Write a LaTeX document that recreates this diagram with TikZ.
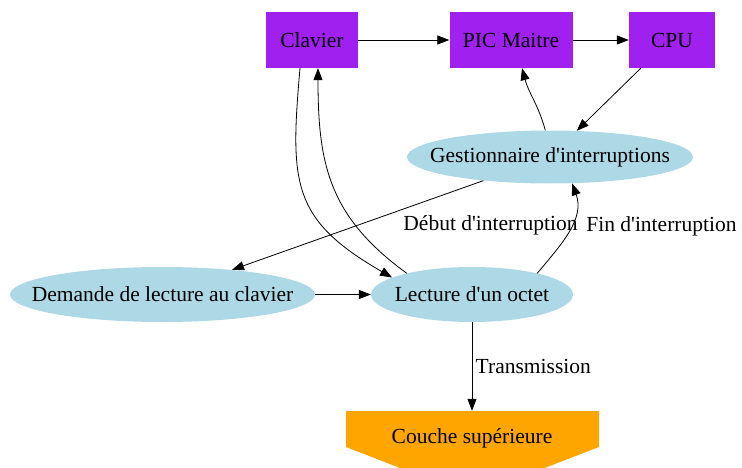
\documentclass[tikz,border=0pt]{standalone}
\usepackage{fontspec}
\setmainfont{Liberation Serif}
\usepackage{tikz}
\usetikzlibrary{arrows.meta,positioning,shapes.geometric}
\definecolor{boxpurple}{HTML}{A020F0}
\definecolor{stepblue}{HTML}{ADD8E6}
\definecolor{layerorange}{HTML}{FFA500}

\begin{document}
\begin{tikzpicture}[x=1pt,y=1pt,
  every node/.style={font=\fontsize{21.5}{26}\selectfont},
  hw/.style={rectangle,fill=boxpurple,inner sep=0pt},
  stepnode/.style={ellipse,fill=stepblue,inner ysep=0pt,inner xsep=-23pt},
  link/.style={-{Triangle[length=12pt,width=9pt]},line width=0.8pt}]
  \useasboundingbox (0,0) rectangle (742,467);
  % hardware row
  \node[hw,minimum width=92pt,minimum height=56pt] (clavier) at (312,427) {Clavier};
  \node[hw,minimum width=123pt,minimum height=56pt] (pic) at (511,427) {PIC Maitre};
  \node[hw,minimum width=86pt,minimum height=56pt] (cpu) at (672,427) {CPU};
  % software steps
  \node[stepnode,minimum width=286pt,minimum height=53pt] (gest) at (550,310) {Gestionnaire d\textquotesingle interruptions};
  \node[stepnode,minimum width=305pt,minimum height=55pt] (demande) at (162.5,172.5) {Demande de lecture au clavier};
  \node[stepnode,minimum width=202pt,minimum height=55pt] (lecture) at (472,172.5) {Lecture d\textquotesingle un octet};
  % upper layer
  \fill[layerorange] (346,56) -- (599,56) -- (599,20) -- (472,-29) -- (346,20) -- cycle;
  \node[minimum width=253pt,minimum height=54pt,inner sep=0pt] (couche) at (472,29) {Couche supérieure};

  \draw[link] (clavier) -- (pic);
  \draw[link] (pic) -- (cpu);
  \draw[link] ([xshift=12pt]cpu.south west) -- (gest);
  \draw[link] (gest.100) to[out=105,in=-75] ([xshift=11pt]pic.south);
  \draw[link] (gest) -- node[pos=0.5,anchor=west,xshift=42pt] {Début d\textquotesingle interruption} (demande);
  \draw[link] (lecture.18) to[out=50,in=-70] node[pos=0.5,anchor=west,xshift=14pt,yshift=4pt] {Fin d\textquotesingle interruption} (gest.-50);
  \draw[link] ([xshift=-12pt]clavier.south) to[out=-95,in=150,looseness=1.3] (lecture.168);
  \draw[link] (lecture.162) to[out=144,in=-90,looseness=1.1] ([xshift=6pt]clavier.south);
  \draw[link] (demande) -- (lecture);
  \draw[link] (lecture) -- node[midway,right] {Transmission} (couche);
\end{tikzpicture}
\end{document}
